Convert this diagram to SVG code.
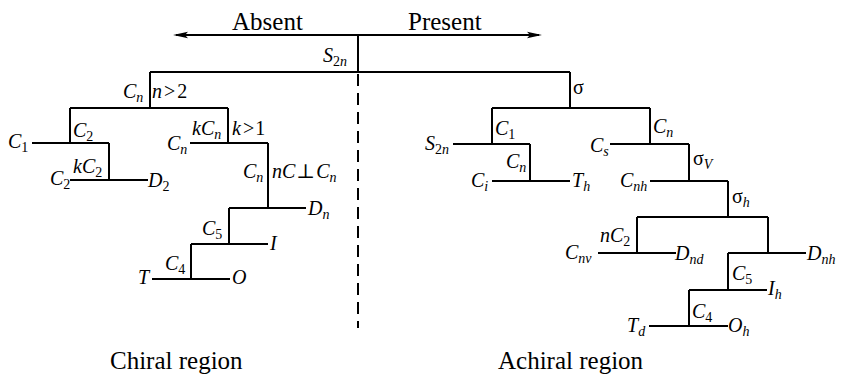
<svg xmlns="http://www.w3.org/2000/svg" width="841" height="375" viewBox="0 0 841 375">
<defs>
<style>
.t{font-size:25px;}
.m{font-size:20px;font-style:italic;}
.u{font-style:normal;}
.s{font-size:14px;}
.ln{stroke:#000;stroke-width:2;fill:none;}
.dash{stroke:#000;stroke-width:2;fill:none;stroke-dasharray:12 7;}
</style>
<marker id="ah" markerUnits="userSpaceOnUse" markerWidth="16" markerHeight="8" refX="12" refY="4" orient="auto">
<path d="M0,0.8 L15,4 L0,7.2 L3,4 Z" fill="#000"/>
</marker>
</defs>
<rect width="841" height="375" fill="#fff"/>

<g id="connectors">
<path class="ln" d="M358,35 H176" marker-end="url(#ah)"/>
<path class="ln" d="M358,35 H539" marker-end="url(#ah)"/>
<path class="ln" d="M358,35 V72 M150,72 H570"/>
<path class="dash" d="M358,74 V328"/>
<path class="ln" d="M150,72 V108 M70,108 H228 M70,108 V143 M32,143 H109 M109,143 V180 M70,180 H148 M228,108 V143 M190,143 H268 M268,143 V208 M229,208 H306 M229,208 V244 M191,244 H268 M191,244 V279 M152,279 H230"/>
<path class="ln" d="M570,72 V108 M492,108 H650 M492,108 V144 M453,144 H530 M530,144 V181 M492,181 H570 M650,108 V144 M610,144 H689 M689,144 V181 M650,181 H728 M728,181 V217 M637,217 H768 M637,217 V253 M598,253 H676 M768,217 V253 M728,253 H806 M728,253 V290 M689,290 H767 M689,290 V326 M649,326 H728"/>
</g>

<g font-family="'Liberation Serif', 'DejaVu Serif', serif" fill="#000">
<g id="header">
<text class="t" x="232" y="30">Absent</text>
<text class="t" x="408" y="30">Present</text>
</g>

<g id="n-S2n-top"><text class="m" x="323" y="62">S<tspan class="s u" dy="4">2</tspan><tspan class="s" dy="0">n</tspan></text></g>
<g id="n-Cn-root"><text class="m" x="123" y="98">C<tspan class="s" dy="4">n</tspan></text><text class="m" x="152" y="98">n<tspan class="u" dx="2">&gt;</tspan><tspan class="u" dx="2">2</tspan></text></g>
<g id="n-C2"><text class="m" x="73" y="137">C<tspan class="s u" dy="4">2</tspan></text></g>
<g id="n-C1"><text class="m" x="8" y="148">C<tspan class="s u" dy="4">1</tspan></text></g>
<g id="n-kC2"><text class="m" x="73" y="173">kC<tspan class="s u" dy="4">2</tspan></text></g>
<g id="n-C2b"><text class="m" x="50" y="185">C<tspan class="s u" dy="4">2</tspan></text></g>
<g id="n-D2"><text class="m" x="148" y="187">D<tspan class="s u" dy="4">2</tspan></text></g>
<g id="n-kCn"><text class="m" x="192" y="135">kC<tspan class="s" dy="4">n</tspan></text><text class="m" x="232" y="135">k<tspan class="u" dx="2">&gt;</tspan><tspan class="u" dx="1">1</tspan></text></g>
<g id="n-Cn-left"><text class="m" x="167" y="150">C<tspan class="s" dy="4">n</tspan></text></g>
<g id="n-Cn-perp"><text class="m" x="243" y="178">C<tspan class="s" dy="4">n</tspan></text><text class="m" x="272" y="178">nC<tspan class="u" dx="1">⊥</tspan><tspan dx="1">C</tspan><tspan class="s" dy="4">n</tspan></text></g>
<g id="n-Dn"><text class="m" x="308" y="215">D<tspan class="s" dy="4">n</tspan></text></g>
<g id="n-C5"><text class="m" x="202" y="235">C<tspan class="s u" dy="4">5</tspan></text></g>
<g id="n-I"><text class="m" x="270" y="250">I</text></g>
<g id="n-C4"><text class="m" x="165" y="270">C<tspan class="s u" dy="4">4</tspan></text></g>
<g id="n-T"><text class="m" x="138" y="284">T</text></g>
<g id="n-O"><text class="m" x="232" y="284">O</text></g>

<g id="n-sigma"><text class="m u" x="573" y="94">σ</text></g>
<g id="n-C1r"><text class="m" x="495" y="135">C<tspan class="s u" dy="4">1</tspan></text></g>
<g id="n-S2n"><text class="m" x="425" y="150">S<tspan class="s u" dy="4">2</tspan><tspan class="s">n</tspan></text></g>
<g id="n-Cn-r1"><text class="m" x="506" y="168">C<tspan class="s" dy="4">n</tspan></text></g>
<g id="n-Ci"><text class="m" x="471" y="187">C<tspan class="s" dy="4">i</tspan></text></g>
<g id="n-Th"><text class="m" x="572" y="187">T<tspan class="s" dy="4">h</tspan></text></g>
<g id="n-Cn-r2"><text class="m" x="653" y="133">C<tspan class="s" dy="4">n</tspan></text></g>
<g id="n-Cs"><text class="m" x="590" y="152">C<tspan class="s" dy="4">s</tspan></text></g>
<g id="n-sigmaV"><text class="m" x="693" y="165"><tspan class="u">σ</tspan><tspan class="s" dy="4">V</tspan></text></g>
<g id="n-Cnh"><text class="m" x="620" y="187">C<tspan class="s" dy="4">nh</tspan></text></g>
<g id="n-sigmah"><text class="m" x="732" y="203"><tspan class="u">σ</tspan><tspan class="s" dy="4">h</tspan></text></g>
<g id="n-nC2"><text class="m" x="600" y="242">nC<tspan class="s u" dy="4">2</tspan></text></g>
<g id="n-Cnv"><text class="m" x="565" y="259">C<tspan class="s" dy="4">nv</tspan></text></g>
<g id="n-Dnd"><text class="m" x="675" y="260">D<tspan class="s" dy="4">nd</tspan></text></g>
<g id="n-Dnh"><text class="m" x="807" y="260">D<tspan class="s" dy="4">nh</tspan></text></g>
<g id="n-C5r"><text class="m" x="732" y="280">C<tspan class="s u" dy="4">5</tspan></text></g>
<g id="n-Ih"><text class="m" x="768" y="295">I<tspan class="s" dy="4">h</tspan></text></g>
<g id="n-C4r"><text class="m" x="692" y="318">C<tspan class="s u" dy="4">4</tspan></text></g>
<g id="n-Td"><text class="m" x="627" y="332">T<tspan class="s" dy="4">d</tspan></text></g>
<g id="n-Oh"><text class="m" x="728" y="332">O<tspan class="s" dy="4">h</tspan></text></g>

<g id="footer">
<text class="t" x="110" y="369">Chiral region</text>
<text class="t" x="498" y="369">Achiral region</text>
</g>
</g>
</svg>
